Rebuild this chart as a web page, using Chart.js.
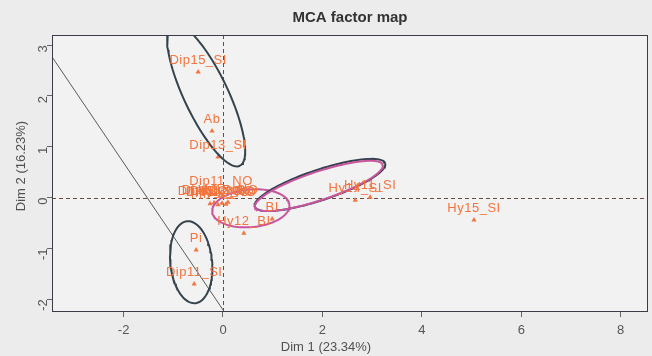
<!DOCTYPE html>
<html>
<head>
<meta charset="utf-8">
<script src="https://cdn.jsdelivr.net/npm/chart.js@4.4.1/dist/chart.umd.min.js"></script>
<style>
  html, body { margin: 0; padding: 0; background: #ececec; }
  #wrap { width: 652px; height: 356px; }
</style>
</head>
<body>
<div id="wrap"><canvas id="mca"></canvas></div>
<script>
// category coordinates
const catNames = ['Dip15_SI', 'Ab', 'Dip13_SI', 'Dip11_NO', 'Dip15_NO', 'Dip12_NO', 'Dip14_NO',
  'Dip13_NO', 'Hy12_NO', 'Hy15_NO', 'Hy12_BI', 'BI', 'Hy14_SI', 'Hy11_SI', 'Hy15_SI', 'Pi', 'Dip11_SI'];
const dim1 = [-0.50, -0.22, -0.10, -0.04, -0.26, -0.18, -0.10, -0.02, 0.06, 0.10, 0.42, 0.99, 2.66, 2.96, 5.05, -0.54, -0.58];
const dim2 = [2.47, 1.31, 0.80, 0.09, -0.12, -0.10, -0.14, -0.11, -0.13, -0.09, -0.70, -0.42, -0.05, 0.01, -0.44, -1.03, -1.70];

const xTicks = [-2, 0, 2, 4, 6, 8];
const yTicks = [-2, -1, 0, 1, 2, 3];

// confidence ellipses: centre, semi axes, angle (deg)
const ellCx = [-0.34, -0.64, 1.93, 1.95, 0.56];
const ellCy = [2.02, -1.27, 0.23, 0.25, -0.21];
const ellA = [1.55, 0.81, 1.35, 1.38, 0.78];
const ellB = [0.44, 0.42, 0.28, 0.30, 0.37];
const ellAng = [-64, 96, 18, 18, 5];
const ellColor = ['#34434c', '#34434c', '#c8559e', '#35414e', '#c8559e'];

// straight line crossing the map
const lineX = [-3.44, 0.05];
const lineY = [2.77, -2.28];

const orange = '#f2743e';

function ellipsePts(i) {
  const pts = [];
  const th = ellAng[i] * Math.PI / 180;
  for (let k = 0; k <= 100; k++) {
    const t = k / 100 * 2 * Math.PI;
    const u = ellA[i] * Math.cos(t), v = ellB[i] * Math.sin(t);
    pts.push({ x: ellCx[i] + u * Math.cos(th) - v * Math.sin(th), y: ellCy[i] + u * Math.sin(th) + v * Math.cos(th) });
  }
  return pts;
}

const datasets = [];
ellCx.forEach((c, i) => {
  datasets.push({ data: ellipsePts(i), showLine: true, borderColor: ellColor[i], borderWidth: 2,
    pointRadius: 0, fill: false, tension: 0 });
});
datasets.push({ data: lineX.map((x, i) => ({ x: x, y: lineY[i] })), showLine: true,
  borderColor: '#5a5a5a', borderWidth: 1, pointRadius: 0 });
datasets.push({ data: dim1.map((x, i) => ({ x: x, y: dim2[i] })), pointStyle: 'triangle',
  pointRadius: 3, backgroundColor: orange, borderColor: orange, borderWidth: 0 });

const decor = {
  id: 'decor',
  beforeDatasetsDraw(chart) {
    const { ctx, chartArea: a, scales } = chart;
    ctx.save();
    ctx.fillStyle = '#f2f2f2';
    ctx.fillRect(a.left, a.top, a.right - a.left, a.bottom - a.top);
    ctx.strokeStyle = '#6a4c3c';
    ctx.lineWidth = 1;
    ctx.setLineDash([4, 3]);
    const x0 = Math.round(scales.x.getPixelForValue(0)) + 0.5;
    const y0 = Math.round(scales.y.getPixelForValue(0)) + 0.5;
    ctx.beginPath();
    ctx.moveTo(x0, a.top); ctx.lineTo(x0, a.bottom);
    ctx.moveTo(a.left, y0); ctx.lineTo(a.right, y0);
    ctx.stroke();
    ctx.restore();
  },
  afterDatasetsDraw(chart) {
    const { ctx, chartArea: a, scales } = chart;
    ctx.save();
    ctx.font = '13px "Liberation Sans", Arial, sans-serif';
    ctx.letterSpacing = '0.5px';
    ctx.fillStyle = orange;
    ctx.textAlign = 'center';
    ctx.textBaseline = 'middle';
    catNames.forEach((n, i) => {
      ctx.fillText(n, scales.x.getPixelForValue(dim1[i]), scales.y.getPixelForValue(dim2[i]) - 12);
    });
    ctx.letterSpacing = '0px';
    ctx.strokeStyle = '#3c3c48';
    ctx.lineWidth = 1;
    ctx.setLineDash([]);
    ctx.strokeRect(a.left + 0.5, a.top + 0.5, a.right - a.left - 1, a.bottom - a.top - 1);
    ctx.fillStyle = '#333';
    ctx.font = 'bold 15px "Liberation Sans", Arial, sans-serif';
    ctx.fillText('MCA factor map', (a.left + a.right) / 2, 18);
    ctx.fillStyle = '#505050';
    ctx.font = '13px "Liberation Sans", Arial, sans-serif';
    ctx.fillText('Dim 1 (23.34%)', (a.left + a.right) / 2 - 24, 347);
    ctx.translate(21, 166);
    ctx.rotate(-Math.PI / 2);
    ctx.fillText('Dim 2 (16.23%)', 0, 0);
    ctx.restore();
  }
};

new Chart(document.getElementById('mca'), {
  type: 'scatter',
  data: { datasets },
  options: {
    responsive: true,
    maintainAspectRatio: false,
    animation: false,
    layout: { padding: { top: 35, right: 4, left: 0, bottom: 0 } },
    plugins: { legend: { display: false }, tooltip: { enabled: false } },
    scales: {
      x: {
        min: -3.44, max: 8.55,
        afterBuildTicks: s => { s.ticks = xTicks.map(v => ({ value: v })); },
        afterFit: s => { s.height = 44; },
        border: { display: false },
        grid: { drawOnChartArea: false, drawTicks: true, tickLength: 5, color: '#666' },
        ticks: { color: '#555', padding: 6, maxRotation: 0, font: { size: 13, family: '"Liberation Sans", Arial, sans-serif' } }
      },
      y: {
        min: -2.25, max: 3.2,
        afterBuildTicks: s => { s.ticks = yTicks.map(v => ({ value: v })); },
        afterFit: s => { s.width = 52; },
        border: { display: false },
        grid: { drawOnChartArea: false, drawTicks: true, tickLength: 5, color: '#666' },
        ticks: { color: '#555', padding: 4, minRotation: 90, maxRotation: 90, font: { size: 13, family: '"Liberation Sans", Arial, sans-serif' } }
      }
    }
  },
  plugins: [decor]
});
</script>
</body>
</html>
